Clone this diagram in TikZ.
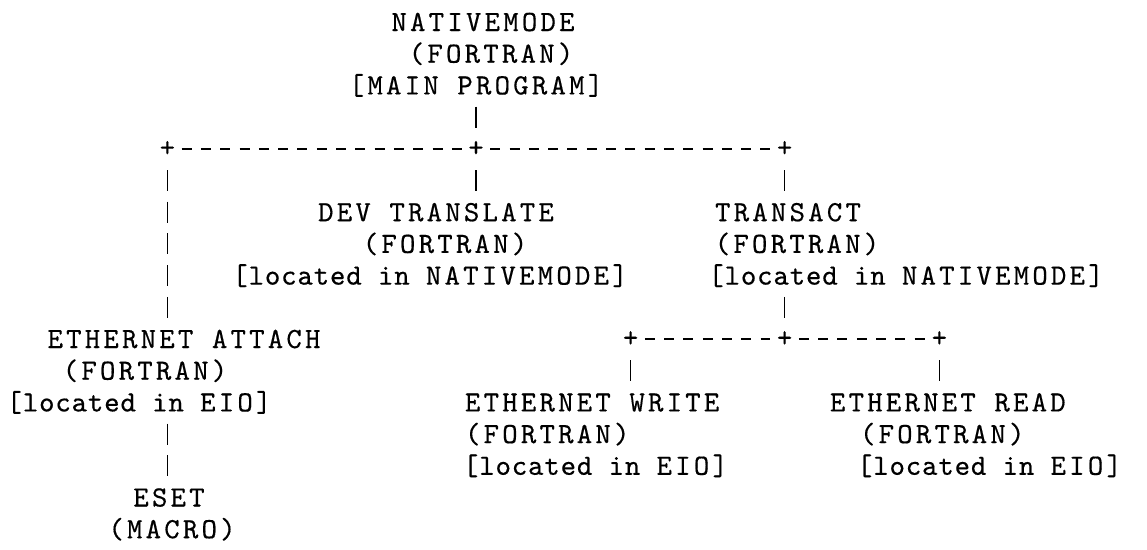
\documentclass[tikz,border=0pt]{standalone}
\usepackage{fontspec}
% typewriter face: capitals set on a wide pitch, small letters closer together
\newfontfamily\up{lmmono10-regular.otf}[LetterSpace=11, FakeBold=0.4]
\newfontfamily\lo{lmmono10-regular.otf}[LetterSpace=3, FakeBold=0.4]
\newcommand\lc[1]{{\lo #1}}
\usetikzlibrary{calc}
\tikzset{
  txt/.style={inner sep=0pt, outer sep=0pt, text height=13.5pt, text depth=0pt,
    anchor=base, font=\up\fontsize{22pt}{24pt}\selectfont},
  txtw/.style={txt, anchor=base west},
  junction/.style={inner sep=0pt, outer sep=0pt, anchor=center,
    font=\up\fontsize{22pt}{24pt}\selectfont},
  % typed vertical bars: one bar per text line
  vbar/.style={line width=1.2pt, dash pattern=on 15.75pt off 8.025pt},
  % typed dashes between two plus signs
  hbar/.style={line width=1.2pt, dash pattern=on 7.5pt off 6.975pt,
    shorten <=10.7pt, shorten >=10.7pt},
  fromtext/.style={shorten <=9.15pt},
  totext/.style={shorten >=9.15pt},
  fromjn/.style={shorten <=15.9pt},
  tojn/.style={shorten >=15.9pt},
}
\begin{document}
\begin{tikzpicture}[x=0.75pt, y=-0.75pt]
\useasboundingbox (0,0) rectangle (1147,550);
\fill[white] (0,0) rectangle (1147,550);

% main program
\node[txt] (nm)  at (483, 31.0) {NATIVEMODE};
\node[txt] (nmf) at (491, 62.7) {(FORTRAN)};
\node[txt] (nmp) at (476, 94.4) {[MAIN PROGRAM]};

% first level junctions
\node[junction] (j1l) at (167.4, 148.8) {+};
\node[junction] (j1)  at (476.0, 148.8) {+};
\node[junction] (j1r) at (784.6, 148.8) {+};

% DEV_TRANSLATE
\node[txt] (dev)  at (436, 221.2) {DEV TRANSLATE};
\node[txt] (devf) at (445, 252.9) {(FORTRAN)};
\node[txt] (devl) at (430, 284.6) {\lc{[located in }NATIVEMODE]};

% TRANSACT
\node[txt] (tr)  at (788, 221.2) {TRANSACT};
\node[txt] (trf) at (797, 252.9) {(FORTRAN)};
\node[txt] (trl) at (906, 284.6) {\lc{[located in }NATIVEMODE]};

% ETHERNET_ATTACH
\node[txt] (ea)  at (184, 348.0) {ETHERNET ATTACH};
\node[txt] (eaf) at (145, 379.7) {(FORTRAN)};
\node[txt] (eal) at (139, 411.4) {\lc{[located in }EIO]};

% ESET
\node[txt] (es)  at (169, 506.5) {ESET};
\node[txt] (esm) at (172, 538.2) {(MACRO)};

% second level junctions
\node[junction] (j2l) at (630.6, 339.0) {+};
\node[junction] (j2)  at (784.6, 339.0) {+};
\node[junction] (j2r) at (939.4, 339.0) {+};

% ETHERNET_WRITE
\node[txtw] (ew)  at (465, 411.4) {ETHERNET WRITE};
\node[txtw] (ewf) at (465, 443.1) {(FORTRAN)};
\node[txtw] (ewl) at (463, 474.8) {\lc{[located in }EIO]};

% ETHERNET_READ
\node[txtw] (er)  at (830, 411.4) {ETHERNET READ};
\node[txtw] (erf) at (860, 443.1) {(FORTRAN)};
\node[txtw] (erl) at (857, 474.8) {\lc{[located in }EIO]};

% horizontal runs
\draw[hbar] (j1l.center) -- (j1.center);
\draw[hbar] (j1.center) -- (j1r.center);
\draw[hbar] (j2l.center) -- (j2.center);
\draw[hbar] (j2.center) -- (j2r.center);

% vertical runs
\draw[vbar, fromtext, tojn] (nmp.south -| j1.center) -- (j1.center);
\draw[vbar, fromjn, totext] (j1l.center) -- (j1l.center |- ea.north);
\draw[vbar, fromjn, totext] (j1.center) -- (j1.center |- dev.north);
\draw[vbar, fromjn, totext] (j1r.center) -- (j1r.center |- tr.north);
\draw[vbar, fromtext, tojn] (trl.south -| j2.center) -- (j2.center);
\draw[vbar, fromjn, totext] (j2l.center) -- (j2l.center |- ew.north);
\draw[vbar, fromjn, totext] (j2r.center) -- (j2r.center |- er.north);
\draw[vbar, fromtext, totext] (eal.south -| j1l.center) -- (j1l.center |- es.north);
\end{tikzpicture}
\end{document}
